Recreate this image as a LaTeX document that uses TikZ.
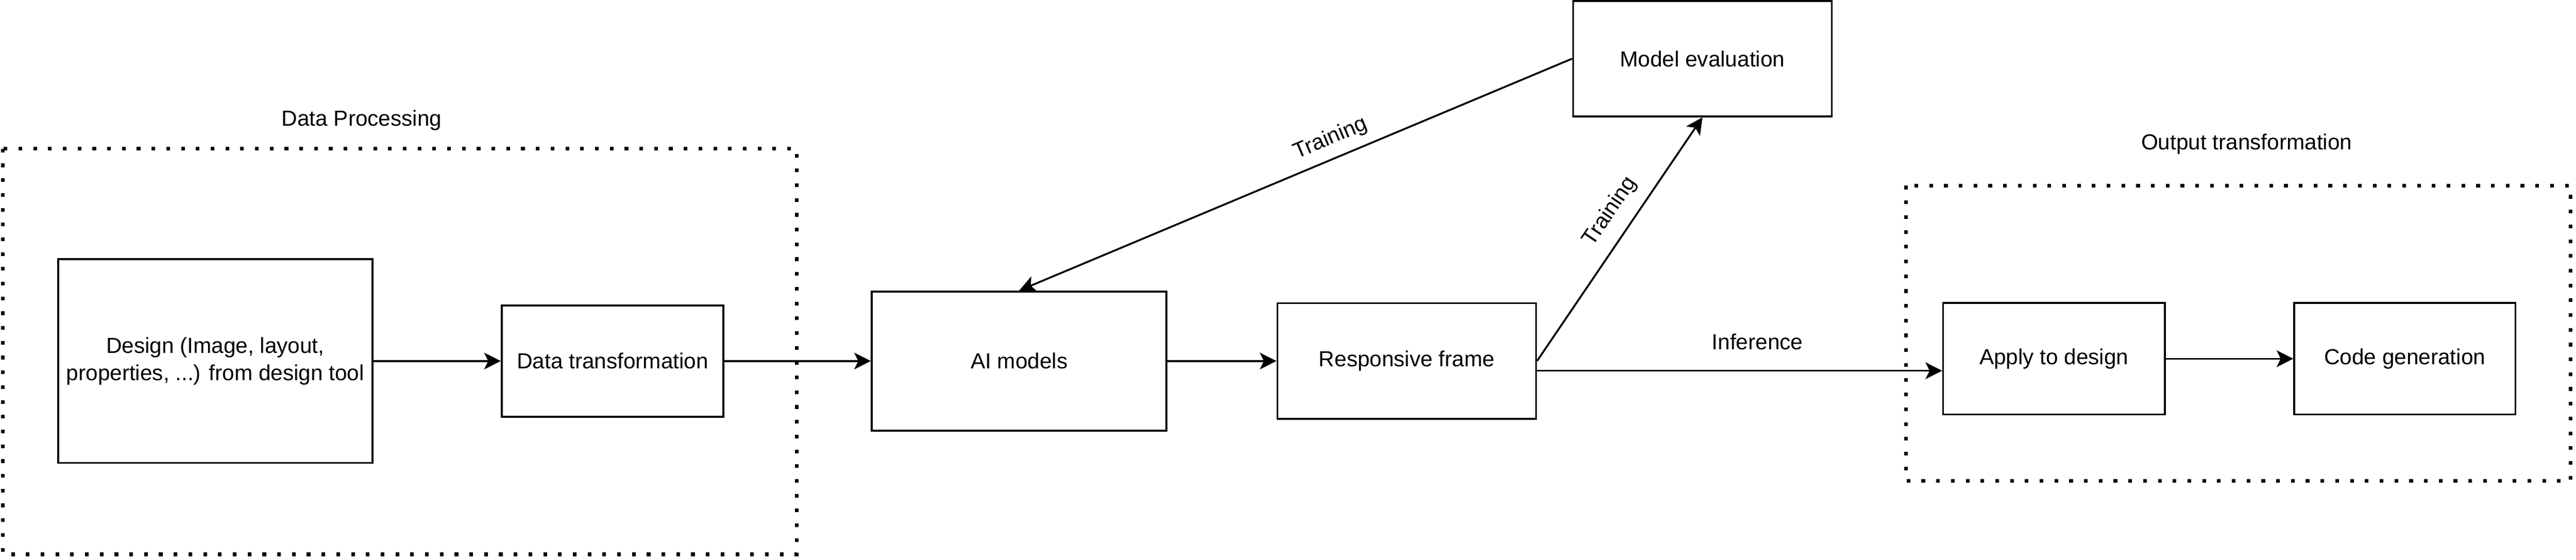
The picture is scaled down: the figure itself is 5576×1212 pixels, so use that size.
\documentclass[tikz,border=0pt]{standalone}
\usepackage{fontspec}
\setmainfont{Liberation Sans}
\usetikzlibrary{arrows.meta,calc}
\begin{document}
\begin{tikzpicture}[x=0.25pt,y=-0.25pt,
  font=\fontsize{11.8pt}{14.8pt}\selectfont,
  box/.style={draw,line width=1pt,rectangle,inner sep=0pt,align=center,anchor=center},
  group/.style={draw,line width=2pt,dash pattern=on 2pt off 6pt},
  conn/.style={line width=1pt,-{Stealth[length=9pt,width=9pt,inset=2.2pt]}},
  lbl/.style={inner sep=0pt,anchor=center}]
\useasboundingbox (0,0) rectangle (5576,1212);
% groups
\draw[group] (6,322) rectangle (1725,1200);
\draw[group] (4126,402) rectangle (5564,1041);
\node[lbl] (dplbl) at (783,261) {Data Processing};
\node[lbl] (otlbl) at (4863,312) {Output transformation};
% boxes
\node[box,minimum width=170pt,minimum height=110.25pt] (design) at (466,781.5) {Design (Image, layout,\\properties, ...) from design tool};
\node[box,minimum width=120pt,minimum height=60.25pt] (dt) at (1326,781.5) {Data transformation};
\node[box,minimum width=159.5pt,minimum height=75.25pt] (ai) at (2206,781.5) {AI models};
\node[box,minimum width=140pt,minimum height=62.5pt] (rf) at (3045,781.5) {Responsive frame};
\node[box,minimum width=140pt,minimum height=62.5pt] (me) at (3685,127) {Model evaluation};
\node[box,minimum width=120pt,minimum height=60.25pt] (apply) at (4446,776.5) {Apply to design};
\node[box,minimum width=119.75pt,minimum height=60.25pt] (code) at (5205.5,776.5) {Code generation};
% connectors
\draw[conn] (design.east) -- (dt.west);
\draw[conn] (dt.east) -- (ai.west);
\draw[conn] (ai.east) -- (rf.west);
\draw[conn] (rf.east) -- (me.south);
\draw[conn] (me.west) -- (ai.north);
\draw[conn] ([yshift=-5.25pt]rf.east) -- ([yshift=-5.25pt]rf.east -| apply.west);
\draw[conn] (apply.east) -- (code.west);
% labels
\node[lbl,rotate=22.8] (t1) at (2880,300) {Training};
\node[lbl,rotate=55.9] (t2) at (3485,458) {Training};
\node[lbl] (inf) at (3804,740) {Inference};
\end{tikzpicture}
\end{document}
